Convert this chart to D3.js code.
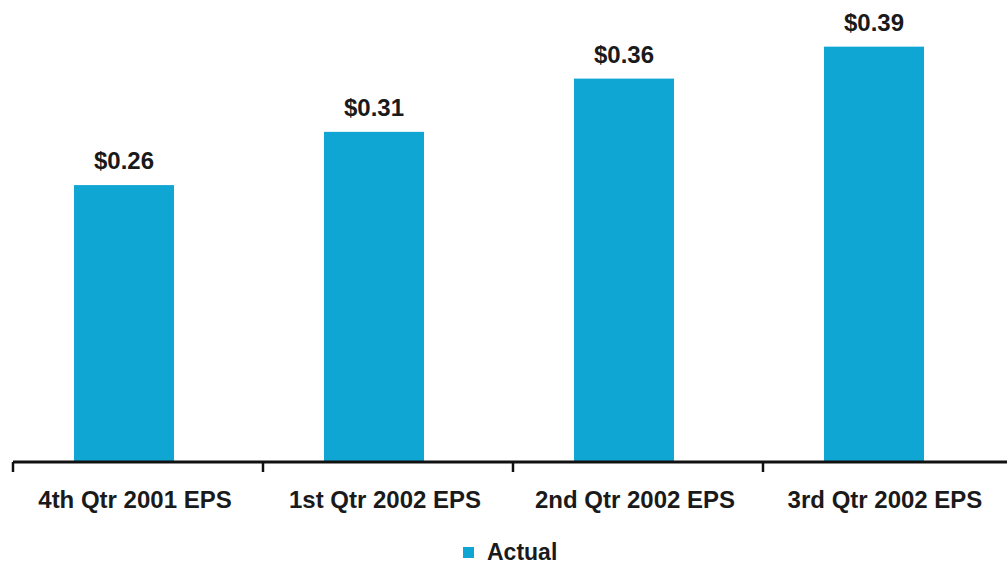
<!DOCTYPE html>
<html>
<head>
<meta charset="utf-8">
<script src="https://cdn.jsdelivr.net/npm/d3@7"></script>
<style>
  html, body { margin: 0; padding: 0; background: #fff; }
  text { font-family: "Liberation Sans", Arial, sans-serif; font-weight: bold; fill: #1a1a1a; }
</style>
</head>
<body>
<div id="chart"></div>
<script>
const categories = ["4th Qtr 2001 EPS", "1st Qtr 2002 EPS", "2nd Qtr 2002 EPS", "3rd Qtr 2002 EPS"];
const values = [0.26, 0.31, 0.36, 0.39];
const valueLabels = ["$0.26", "$0.31", "$0.36", "$0.39"];
const seriesName = "Actual";

const width = 1007, height = 565;
const barColor = "#10a6d4";
const baseY = 462;

const svg = d3.select("#chart")
    .append("svg")
    .attr("width", width)
    .attr("height", height);

// scales
const xAxisScale = d3.scaleBand()
    .domain(categories)
    .range([13, 1013]);

const xBar = d3.scaleBand()
    .domain(categories)
    .range([-1, 999])
    .paddingInner(0.6)
    .paddingOuter(0.3);

const y = d3.scaleLinear()
    .domain([0, 0.4])
    .range([baseY, 36]);

// bars
svg.selectAll("rect.bar")
    .data(values)
    .join("rect")
    .attr("class", "bar")
    .attr("x", (d, i) => xBar(categories[i]))
    .attr("y", d => y(d))
    .attr("width", xBar.bandwidth())
    .attr("height", d => y(0) - y(d))
    .attr("fill", barColor);

// value labels
svg.selectAll("text.value")
    .data(values)
    .join("text")
    .attr("class", "value")
    .attr("x", (d, i) => xBar(categories[i]) + xBar.bandwidth() / 2)
    .attr("y", d => y(d) - 16)
    .attr("text-anchor", "middle")
    .attr("font-size", "24px")
    .text((d, i) => valueLabels[i]);

// x axis
const axis = svg.append("g")
    .attr("class", "x-axis")
    .attr("transform", `translate(0,${baseY})`);

axis.append("line")
    .attr("x1", 13)
    .attr("x2", width)
    .attr("stroke", "#111")
    .attr("stroke-width", 3);

const tickPos = categories.map(c => xAxisScale(c));
axis.selectAll("line.tick")
    .data(tickPos)
    .join("line")
    .attr("class", "tick")
    .attr("x1", d => d)
    .attr("x2", d => d)
    .attr("y1", 0)
    .attr("y2", 10)
    .attr("stroke", "#111")
    .attr("stroke-width", 2.5);

axis.selectAll("text.cat")
    .data(categories)
    .join("text")
    .attr("class", "cat")
    .attr("x", d => xAxisScale(d) + xAxisScale.bandwidth() / 2 - 3)
    .attr("y", 46)
    .attr("text-anchor", "middle")
    .attr("font-size", "24px")
    .text(d => d);

// legend
const legend = svg.append("g")
    .attr("transform", "translate(463,547)");

legend.append("rect")
    .attr("width", 11)
    .attr("height", 11)
    .attr("fill", barColor);

legend.append("text")
    .attr("x", 24)
    .attr("y", 13)
    .attr("font-size", "23px")
    .text(seriesName);
</script>
</body>
</html>
